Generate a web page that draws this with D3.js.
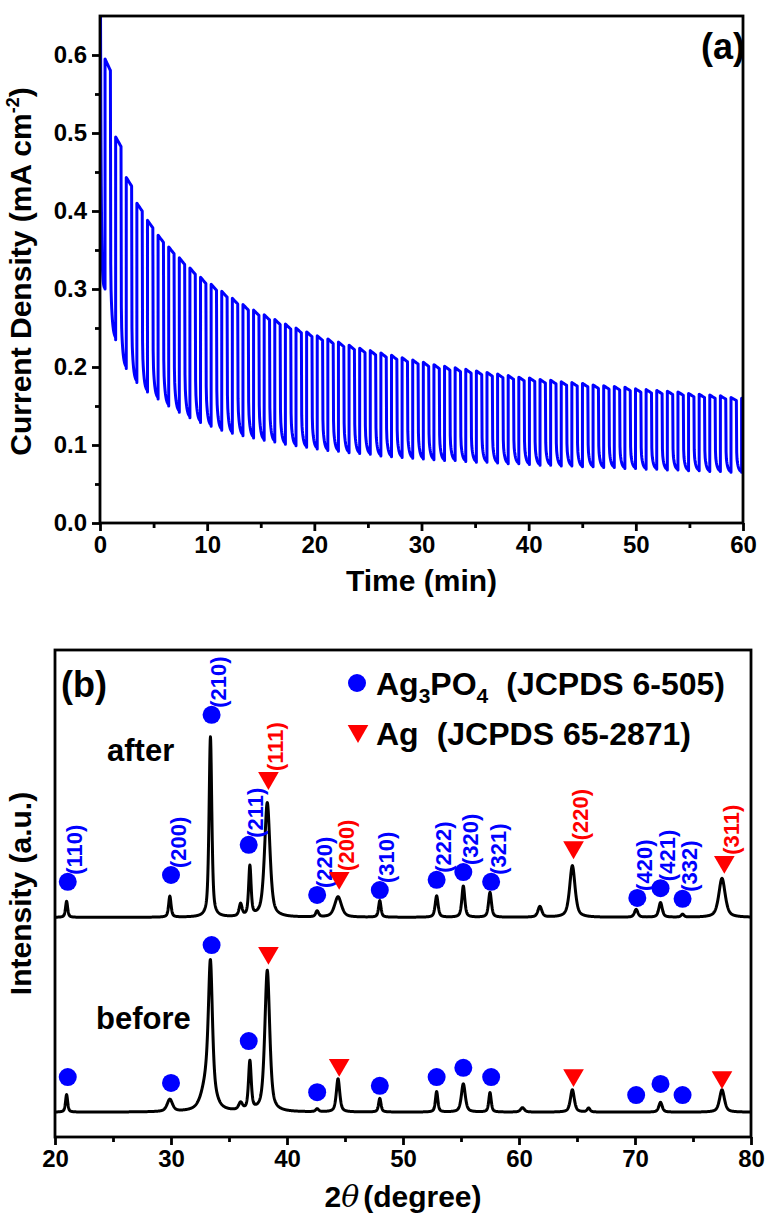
<!DOCTYPE html>
<html>
<head>
<meta charset="utf-8">
<script src="https://cdn.jsdelivr.net/npm/d3@7"></script>
<style>
  body { margin: 0; background: #fff; }
  svg { display: block; font-family: "Liberation Sans", Arial, sans-serif; font-weight: bold; }
</style>
</head>
<body>
<div id="chart"></div>
<script>
// ---- panel (a): chopped-light chronoamperometry ----
const timeTicks = [0, 10, 20, 30, 40, 50, 60];
const currentTicks = [0.0, 0.1, 0.2, 0.3, 0.4, 0.5, 0.6];
const firstLightOn = 0.47;   // min
const lightPeriod = 0.99;    // min
const lightOnTime = 0.5;     // min
const startCurrent = 1.0;    // mA cm-2 (spike at t = 0, off scale)
// photocurrent at the start of each light-on period
const onCurrent = [
  0.595, 0.495, 0.443, 0.410, 0.388, 0.369, 0.354, 0.340, 0.327, 0.315,
  0.306, 0.297, 0.288, 0.280, 0.273, 0.267, 0.261, 0.255, 0.250, 0.245,
  0.240, 0.236, 0.232, 0.228, 0.224, 0.221, 0.218, 0.215, 0.212, 0.209,
  0.206, 0.203, 0.201, 0.199, 0.197, 0.195, 0.193, 0.191, 0.189, 0.187,
  0.186, 0.184, 0.183, 0.181, 0.180, 0.179, 0.177, 0.176, 0.175, 0.174,
  0.172, 0.171, 0.170, 0.169, 0.168, 0.166, 0.165, 0.164, 0.163, 0.161, 0.160
];
// dark current reached just before each light-on
const offCurrent = [
  0.300, 0.235, 0.198, 0.180, 0.168, 0.159, 0.150, 0.142, 0.135, 0.129,
  0.124, 0.119, 0.115, 0.112, 0.109, 0.106, 0.104, 0.101, 0.099, 0.097,
  0.095, 0.093, 0.092, 0.090, 0.089, 0.088, 0.086, 0.085, 0.084, 0.083,
  0.082, 0.081, 0.080, 0.080, 0.079, 0.078, 0.078, 0.077, 0.076, 0.076,
  0.075, 0.074, 0.074, 0.073, 0.073, 0.072, 0.072, 0.071, 0.071, 0.070,
  0.070, 0.069, 0.069, 0.068, 0.068, 0.067, 0.067, 0.066, 0.066, 0.065, 0.065
];

// ---- panel (b): XRD before / after ----
const angleTicks = [20, 30, 40, 50, 60, 70, 80];
const afterBaseline = 45.1;
const beforeBaseline = 5.1;
// [2theta, height (a.u.), FWHM]
const afterPeaks = [
  [21.0, 3.3, 0.22], [29.9, 4.3, 0.25], [33.4, 37.0, 0.28], [36.0, 2.5, 0.30],
  [36.8, 10.2, 0.25], [38.3, 23.5, 0.55], [42.6, 1.2, 0.30], [44.4, 4.2, 0.70],
  [48.0, 3.4, 0.25], [52.9, 4.4, 0.30], [55.2, 6.4, 0.30], [57.5, 5.1, 0.30],
  [61.8, 2.2, 0.40], [64.6, 10.6, 0.55], [70.1, 1.6, 0.35], [72.2, 3.0, 0.35],
  [74.1, 0.6, 0.30], [77.5, 8.0, 0.65]
];
const beforePeaks = [
  [21.0, 3.6, 0.22], [29.9, 2.5, 0.55], [33.2, 7.0, 1.10], [33.4, 25.0, 0.40],
  [36.0, 1.5, 0.40], [36.8, 10.0, 0.28], [38.3, 29.0, 0.50], [42.6, 0.6, 0.30],
  [44.4, 6.8, 0.35], [48.0, 2.8, 0.25], [52.9, 4.2, 0.25], [55.2, 5.8, 0.40],
  [57.5, 4.0, 0.25], [60.3, 0.9, 0.40], [64.6, 4.6, 0.40], [66.0, 0.8, 0.30],
  [72.2, 2.0, 0.35], [77.5, 4.6, 0.50]
];
// [2theta, marker level (a.u.), label, phase]
const afterMarkers = [
  [21.1, 52.4, "(110)", "P"], [30.0, 53.8, "(200)", "P"], [33.5, 86.7, "(210)", "P"],
  [36.7, 60.0, "(211)", "P"], [38.4, 73.7, "(111)", "Ag"], [42.6, 49.7, "(220)", "P"],
  [44.5, 53.2, "(200)", "Ag"], [48.0, 50.7, "(310)", "P"], [52.9, 52.8, "(222)", "P"],
  [55.2, 54.4, "(320)", "P"], [57.6, 52.4, "(321)", "P"], [64.7, 59.5, "(220)", "Ag"],
  [70.2, 49.1, "(420)", "P"], [72.2, 51.1, "(421)", "P"], [74.1, 48.9, "(332)", "P"],
  [77.7, 56.5, "(311)", "Ag"]
];
const beforeMarkers = [
  [21.1, 12.3, "P"], [30.0, 11.1, "P"], [33.5, 39.4, "P"], [36.7, 19.7, "P"],
  [38.4, 37.8, "Ag"], [42.6, 9.2, "P"], [44.5, 14.8, "Ag"], [48.0, 10.5, "P"],
  [52.9, 12.3, "P"], [55.2, 14.2, "P"], [57.6, 12.3, "P"], [64.7, 12.7, "Ag"],
  [70.1, 8.6, "P"], [72.2, 10.9, "P"], [74.1, 8.6, "P"], [77.5, 12.3, "Ag"]
];

const width = 768;
const height = 1216;
const blue = "#0000ff";
const red = "#ff0000";

const svg = d3.create("svg")
  .attr("width", width)
  .attr("height", height);

// ================= panel (a) =================
const boxA = { left: 100, right: 743, top: 16, bottom: 523 };
const xA = d3.scaleLinear().domain([0, 60]).range([boxA.left, boxA.right]);
const yA = d3.scaleLinear().domain([0, 0.65]).range([boxA.bottom, boxA.top]);

// build the current trace from the per-cycle values
const traceA = [];
for (let i = 0; i <= 40; i++) {
  const t = firstLightOn * i / 40;
  traceA.push([t, offCurrent[0] + (startCurrent - offCurrent[0]) * Math.exp(-t / 0.07)]);
}
onCurrent.forEach((hi, k) => {
  const tOn = firstLightOn + k * lightPeriod;
  if (tOn > 60) return;
  traceA.push([tOn, offCurrent[k]]);
  traceA.push([tOn, hi]);
  const onEnd = hi * 0.975;
  for (let i = 1; i <= 6; i++) {
    const s = i / 6;
    traceA.push([tOn + s * lightOnTime, hi - (hi - onEnd) * s]);
  }
  const tOff = tOn + lightOnTime;
  const low = offCurrent[k + 1] !== undefined ? offCurrent[k + 1] : offCurrent[k];
  const offTime = lightPeriod - lightOnTime;
  for (let i = 0; i <= 16; i++) {
    const dt = offTime * i / 16;
    const f = 0.72 * Math.exp(-dt / 0.012) + 0.28 * Math.exp(-dt / 0.14);
    traceA.push([tOff + dt, low + (onEnd - low) * f]);
  }
});
const traceAClipped = traceA.filter(d => d[0] <= 60);

svg.append("clipPath").attr("id", "clipA")
  .append("rect")
  .attr("x", boxA.left).attr("y", boxA.top)
  .attr("width", boxA.right - boxA.left).attr("height", boxA.bottom - boxA.top);

svg.append("path")
  .datum(traceAClipped)
  .attr("clip-path", "url(#clipA)")
  .attr("fill", "none")
  .attr("stroke", blue)
  .attr("stroke-width", 3)
  .attr("stroke-linejoin", "round")
  .attr("d", d3.line().x(d => xA(d[0])).y(d => yA(d[1])));

// axes (a)
svg.append("g")
  .attr("transform", `translate(0,${boxA.bottom})`)
  .call(d3.axisBottom(xA).tickValues(timeTicks).tickSize(8).tickPadding(5).tickFormat(d3.format("d")));
svg.append("g")
  .attr("transform", `translate(0,${boxA.bottom})`)
  .call(d3.axisBottom(xA).tickValues(d3.range(5, 60, 10)).tickSize(5).tickFormat(""));
svg.append("g")
  .attr("transform", `translate(${boxA.left},0)`)
  .call(d3.axisLeft(yA).tickValues(currentTicks).tickSize(8).tickPadding(5).tickFormat(d3.format(".1f")));
svg.append("g")
  .attr("transform", `translate(${boxA.left},0)`)
  .call(d3.axisLeft(yA).tickValues(d3.range(0.05, 0.65, 0.1)).tickSize(5).tickFormat(""));

svg.append("rect")
  .attr("x", boxA.left).attr("y", boxA.top)
  .attr("width", boxA.right - boxA.left).attr("height", boxA.bottom - boxA.top)
  .attr("fill", "none").attr("stroke", "#000").attr("stroke-width", 2.8);

svg.append("text")
  .attr("x", (boxA.left + boxA.right) / 2).attr("y", 591)
  .attr("text-anchor", "middle").attr("font-size", 30)
  .text("Time (min)");

const yTitleA = svg.append("text")
  .attr("transform", `translate(31,${(boxA.top + boxA.bottom) / 2 + 2}) rotate(-90)`)
  .attr("text-anchor", "middle").attr("font-size", 30);
yTitleA.append("tspan").text("Current Density (mA cm");
yTitleA.append("tspan").attr("font-size", 18).attr("dy", -12).text("-2");
yTitleA.append("tspan").attr("dy", 12).text(")");

svg.append("text")
  .attr("x", 745).attr("y", 59)
  .attr("text-anchor", "end").attr("font-size", 36)
  .text("(a)");

// ================= panel (b) =================
const boxB = { left: 55, right: 751, top: 650, bottom: 1137 };
const xB = d3.scaleLinear().domain([20, 80]).range([boxB.left, boxB.right]);
const yB = d3.scaleLinear().domain([0, 100]).range([boxB.bottom, boxB.top]);

function profile(peaks, base, t) {
  let v = base;
  for (const [pos, h, w] of peaks) {
    const u = (t - pos) / w;
    v += h * (0.6 / (1 + 4 * u * u) + 0.4 * Math.exp(-4 * Math.LN2 * u * u));
  }
  return v;
}
const angleGrid = d3.range(20, 80.001, 0.02);
const lineB = d3.line().x(d => xB(d[0])).y(d => yB(d[1]));

[[afterPeaks, afterBaseline], [beforePeaks, beforeBaseline]].forEach(([peaks, base]) => {
  svg.append("path")
    .datum(angleGrid.map(t => [t, profile(peaks, base, t)]))
    .attr("fill", "none")
    .attr("stroke", "#000")
    .attr("stroke-width", 3)
    .attr("stroke-linejoin", "round")
    .attr("d", lineB);
});

const triangle = d3.symbol().type(d3.symbolTriangle).size(185);

function drawMarker(g, phase, x, y) {
  if (phase === "P") {
    g.append("circle").attr("cx", x).attr("cy", y).attr("r", 9).attr("fill", blue);
  } else {
    g.append("path").attr("d", triangle)
      .attr("transform", `translate(${x},${y}) rotate(180)`)
      .attr("fill", red);
  }
}

const markerG = svg.append("g");
afterMarkers.forEach(([ang, lvl, label, phase]) => {
  const x = xB(ang), y = yB(lvl);
  drawMarker(markerG, phase, x, y);
  markerG.append("text")
    .attr("transform", `translate(${x + 7},${y - 7}) rotate(-90)`)
    .attr("dominant-baseline", "central")
    .attr("font-size", 22)
    .attr("fill", phase === "P" ? blue : red)
    .text(label);
});
beforeMarkers.forEach(([ang, lvl, phase]) => {
  drawMarker(markerG, phase, xB(ang), yB(lvl));
});

// axes (b)
svg.append("g")
  .attr("transform", `translate(0,${boxB.bottom})`)
  .call(d3.axisBottom(xB).tickValues(angleTicks).tickSize(8).tickPadding(5).tickFormat(d3.format("d")));
svg.append("g")
  .attr("transform", `translate(0,${boxB.bottom})`)
  .call(d3.axisBottom(xB).tickValues(d3.range(25, 80, 10)).tickSize(5).tickFormat(""));

svg.append("rect")
  .attr("x", boxB.left).attr("y", boxB.top)
  .attr("width", boxB.right - boxB.left).attr("height", boxB.bottom - boxB.top)
  .attr("fill", "none").attr("stroke", "#000").attr("stroke-width", 2.8);

const xTitleB = svg.append("text")
  .attr("x", (boxB.left + boxB.right) / 2).attr("y", 1207)
  .attr("text-anchor", "middle").attr("font-size", 30);
xTitleB.append("tspan").text("2");
xTitleB.append("tspan").attr("font-style", "italic").attr("font-weight", "normal")
  .attr("font-family", "'DejaVu Serif', serif").text("θ");
xTitleB.append("tspan").attr("dx", 4).text("(degree)");

svg.append("text")
  .attr("transform", `translate(31,${(boxB.top + boxB.bottom) / 2}) rotate(-90)`)
  .attr("text-anchor", "middle").attr("font-size", 30)
  .text("Intensity (a.u.)");

svg.append("text").attr("x", 61).attr("y", 697).attr("font-size", 36).text("(b)");
svg.append("text").attr("x", 107).attr("y", 761).attr("font-size", 31).text("after");
svg.append("text").attr("x", 96).attr("y", 1029).attr("font-size", 31).text("before");

// legend
const legend = svg.append("g");
drawMarker(legend, "P", 357, 683);
drawMarker(legend, "Ag", 358, 731);
const leg1 = legend.append("text").attr("x", 376).attr("y", 695).attr("font-size", 32);
leg1.append("tspan").text("Ag");
leg1.append("tspan").attr("font-size", 21).attr("dy", 8).text("3");
leg1.append("tspan").attr("dy", -8).text("PO");
leg1.append("tspan").attr("font-size", 21).attr("dy", 8).text("4");
leg1.append("tspan").attr("dy", -8).attr("dx", 18).text("(JCPDS 6-505)");
const leg2 = legend.append("text").attr("x", 376).attr("y", 745).attr("font-size", 32);
leg2.append("tspan").text("Ag");
leg2.append("tspan").attr("dx", 18).text("(JCPDS 65-2871)");

// axis styling
svg.selectAll(".domain").remove();
svg.selectAll(".tick line").attr("stroke", "#000").attr("stroke-width", 2.8);
svg.selectAll(".tick text").attr("fill", "#000").attr("font-size", 24)
  .attr("font-family", "'Liberation Sans', Arial, sans-serif").attr("font-weight", "bold");

d3.select("#chart").node().append(svg.node());
</script>
</body>
</html>
